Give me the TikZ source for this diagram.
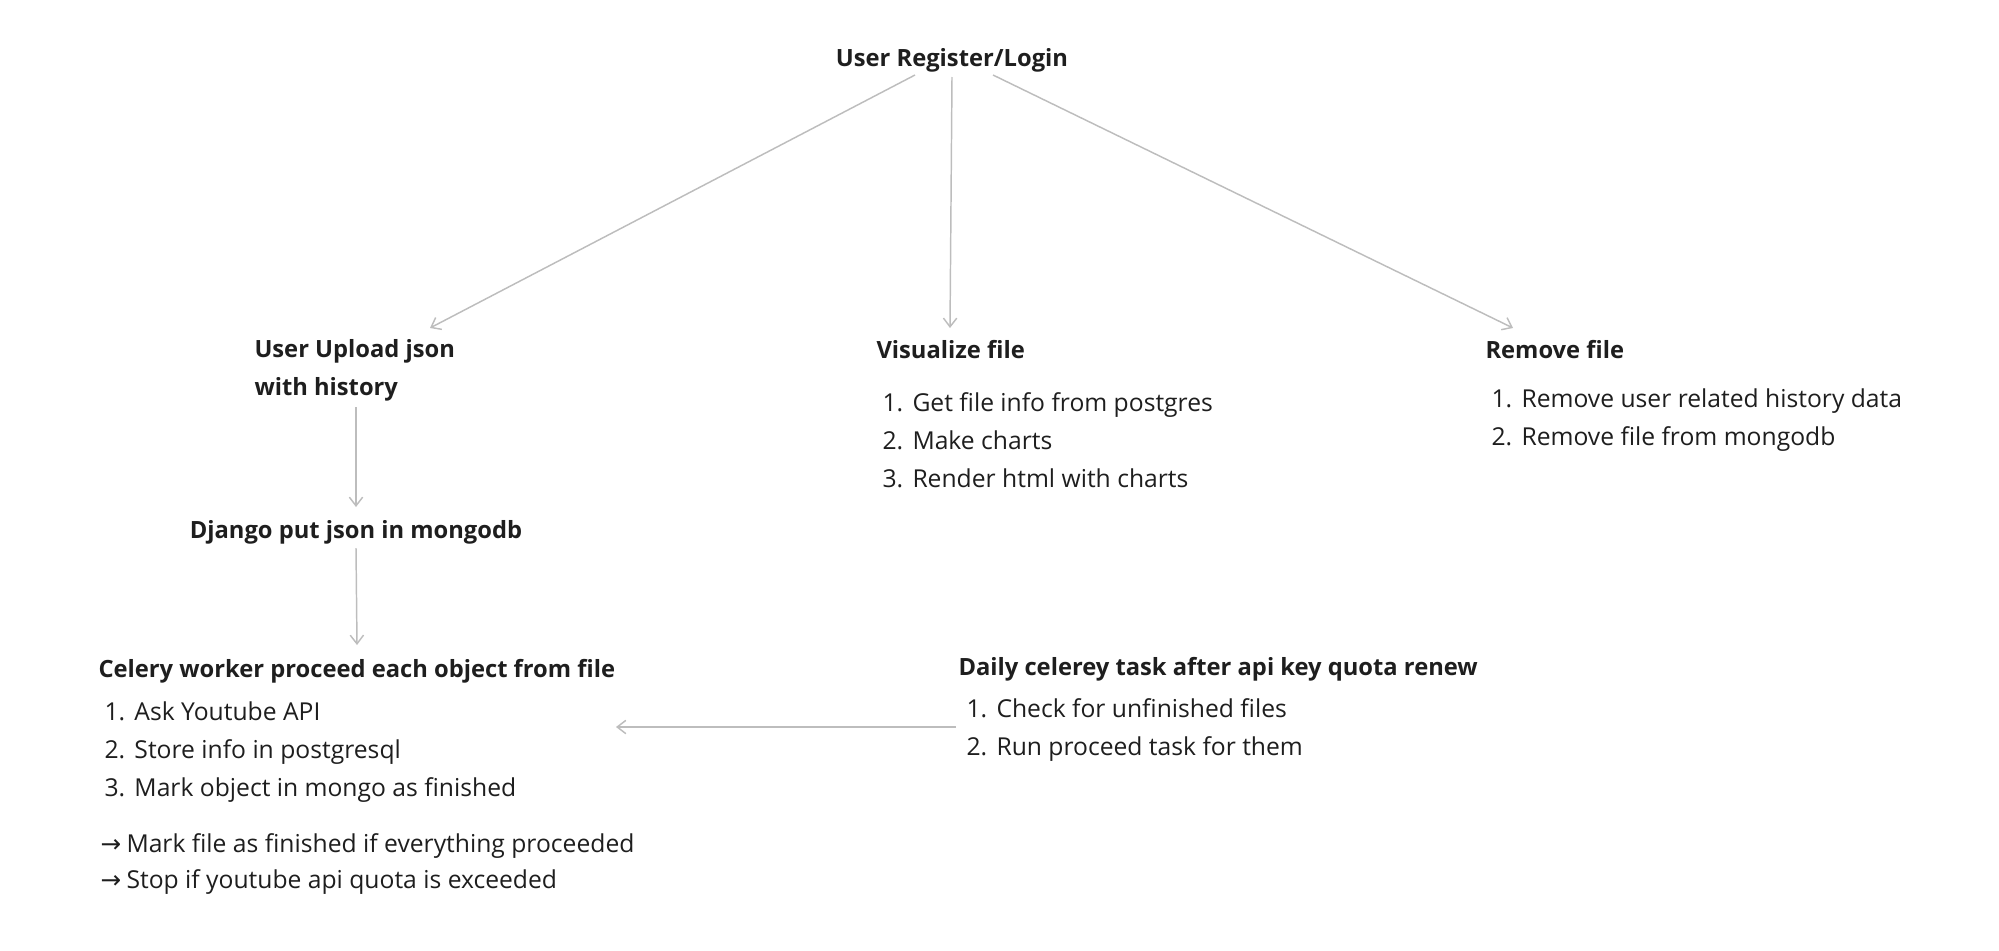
\documentclass[tikz,border=0pt]{standalone}
\usepackage{fontspec}
\setmainfont{Open Sans}
\newfontfamily\arrowfont{DejaVu Sans}
\usetikzlibrary{arrows.meta,calc}
\definecolor{inktext}{RGB}{30,30,30}
\definecolor{flowgray}{RGB}{189,189,189}
\tikzset{every picture/.style={line width=0.75pt}}
\tikzset{
  flow/.style={draw=flowgray, line width=1.1, -{Straight Barb[length=6.5pt,width=10pt,line width=1.1pt]}},
  head/.style={anchor=base west, inner sep=0pt, text=inktext, align=left, font=\fontsize{17.8}{27.9}\selectfont\bfseries},
  steps/.style={anchor=base west, inner sep=0pt, text=inktext, align=left, font=\fontsize{18.5}{28.3}\selectfont},
}
\newcommand{\stepno}[1]{\makebox[22.5pt][l]{#1}}
\newcommand{\then}{{\arrowfont →}\hspace{4pt}}

\begin{document}
\begin{tikzpicture}[x=0.75pt,y=0.75pt,yscale=-1,xscale=1]
\useasboundingbox (0,0) rectangle (1999,950);

% Text Node
\node (login) [head, anchor=base] at (952,66) {User Register/Login};
% Text Node (multi-line nodes sit on their last baseline)
\node (upload) [head] at (254,395) {User Upload json\\with history};
% Text Node
\node (visualize) [head] at (876,358) {Visualize file};
\node (visualizelist) [steps] at (882,487) {\stepno{1.}Get file info from postgres\\\stepno{2.}Make charts\\\stepno{3.}Render html with charts};
% Text Node
\node (remove) [head] at (1485,358) {Remove file};
\node (removelist) [steps] at (1491,445) {\stepno{1.}Remove user related history data\\\stepno{2.}Remove file from mongodb};
% Text Node
\node (django) [head, anchor=base] at (356,538) {Django put json in mongodb};
% Text Node
\node (celery) [head] at (98,677) {Celery worker proceed each object from file};
\node (celerylist) [steps] at (104,796) {\stepno{1.}Ask Youtube API\\\stepno{2.}Store info in postgresql\\\stepno{3.}Mark object in mongo as finished};
\node (celerynotes) [steps, font=\fontsize{18.5}{27}\selectfont] at (100,888) {\then Mark file as finished if everything proceeded\\\then Stop if youtube api quota is exceeded};
% Text Node
\node (daily) [head] at (958,675) {Daily celerey task after api key quota renew};
\node (dailylist) [steps] at (966,755) {\stepno{1.}Check for unfinished files\\\stepno{2.}Run proceed task for them};

%Straight Lines
\draw [flow] ($(login.base)+(-37,9)$) -- ($(upload.base west)+(176,-67)$);
\draw [flow] ($(login.base)+(0,11)$) -- ($(visualize.base west)+(74,-30)$);
\draw [flow] ($(login.base)+(41,9)$) -- ($(remove.base west)+(28,-30)$);
%Straight Lines
\draw [flow] ($(upload.base west)+(102,12)$) -- ($(django.base)+(0,-31)$);
\draw [flow] ($(django.base)+(0,10)$) -- ($(celery.base west)+(259,-32)$);
%Straight Lines
\draw [flow] ($(dailylist.base west)+(-10,-28)$) -- ($(celery.base west)+(518,50)$);

\end{tikzpicture}
\end{document}
